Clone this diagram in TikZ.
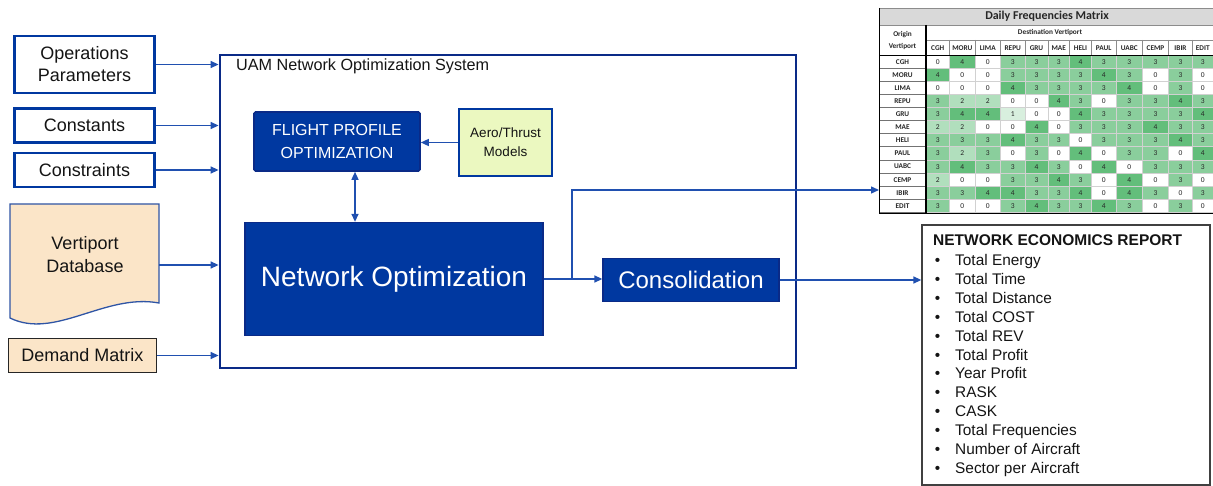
\documentclass[tikz,border=0pt]{standalone}
\usepackage{fontspec}
\setmainfont{Liberation Sans}
\newfontfamily\calib{Carlito}
\usetikzlibrary{arrows.meta}
\definecolor{boxblue}{RGB}{0,56,160}
\definecolor{edgeblue}{RGB}{10,42,135}
\definecolor{linkblue}{RGB}{32,80,176}
\definecolor{vdbline}{RGB}{47,85,165}
\definecolor{peach}{RGB}{251,229,200}
\definecolor{aerofill}{RGB}{235,248,192}
\definecolor{mgreen}{RGB}{99,190,123}
\definecolor{txt}{RGB}{20,20,20}
\begin{document}
\begin{tikzpicture}[x=1pt,y=-1pt,
  inbox/.style={draw=boxblue, line width=2.6pt, fill=white, inner sep=0pt, text=txt, align=center, font=\fontsize{18}{22}\selectfont},
  bluebox/.style={draw=edgeblue, line width=1.6pt, fill=boxblue, inner sep=0pt, text=white, align=center},
  link/.style={draw=linkblue, line width=1.4pt, -{Triangle[length=8pt,width=7pt]}},
  tabhead/.style={font=\calib\bfseries\fontsize{7.3}{8}\selectfont, inner sep=0pt, text=black!85, align=center},
  tabcell/.style={font=\calib\fontsize{7.5}{8}\selectfont, inner sep=0pt, text=black!85},
  repitem/.style={font=\fontsize{15.4}{18}\selectfont, inner sep=0pt, text=txt, anchor=base west},
  repbullet/.style={font=\fontsize{15.4}{18}\selectfont, inner sep=0pt, text=txt, anchor=base}]
\useasboundingbox (0,0) rectangle (1213,486);

% ---------- inputs ----------
\node[inbox, minimum width=140pt, minimum height=57pt] (ops) at (84.5,64.5) {Operations\\Parameters};
\node[inbox, minimum width=140pt, minimum height=34pt] (const) at (84.5,125.5) {Constants};
\node[inbox, minimum width=140pt, minimum height=34pt] (constr) at (84.5,170) {Constraints};

\draw[draw=vdbline, line width=1.3pt, fill=peach] (10,204) -- (159,204) -- (159,303)
   .. controls (105,293) and (55,340) .. (10,318) -- cycle;
\node[font=\fontsize{18}{23}\selectfont, align=center, text=txt, inner sep=0pt] (vdb) at (85,254.5) {Vertiport\\Database};
\coordinate (vdbout) at (159,265);

\node[draw=black!85, line width=1.3pt, fill=peach, minimum width=148pt, minimum height=34pt, inner sep=0pt,
      font=\fontsize{18}{22}\selectfont, text=txt] (demand) at (82.5,355.5) {Demand Matrix};

% ---------- system ----------
\node[draw=edgeblue, line width=2.8pt, minimum width=576pt, minimum height=313pt, inner sep=0pt] (sys) at (508,211.5) {};
\node[anchor=west, font=\fontsize{16.2}{19}\selectfont, text=txt, inner sep=0pt] (systitle) at (236,66) {UAM Network Optimization System};

\node[bluebox, rounded corners=1.5pt, minimum width=166pt, minimum height=59pt, font=\fontsize{16}{22.7}\selectfont] (fpo) at (337,141.5) {FLIGHT PROFILE\\OPTIMIZATION};
\node[draw=boxblue, line width=2.6pt, fill=aerofill, minimum width=93pt, minimum height=67pt, inner sep=0pt, align=center,
      font=\fontsize{13.5}{19}\selectfont, text=txt] (aero) at (505.5,142.5) {Aero/Thrust\\Models};
\node[bluebox, line width=1.3pt, minimum width=298pt, minimum height=113pt, font=\fontsize{28}{32}\selectfont] (netopt) at (394,279) {Network Optimization};
\node[bluebox, line width=1.3pt, minimum width=176pt, minimum height=43pt, font=\fontsize{24}{28}\selectfont] (cons) at (691,280) {Consolidation};

% ---------- report ----------
\node[draw=black!75, line width=1.3pt, minimum width=288pt, minimum height=260pt, inner sep=0pt] (rep) at (1066,355) {};
\node[font=\bfseries\fontsize{15.5}{18}\selectfont, text=txt, inner sep=0pt, anchor=base west] (reptitle) at (933,245.6) {NETWORK ECONOMICS REPORT};
\foreach \t [count=\k from 0] in {Total Energy, Total Time, Total Distance, Total COST, Total REV, Total Profit,
   Year Profit, RASK, CASK, Total Frequencies, Number of Aircraft, Sector per Aircraft} {
  \node[repbullet] (rb-\k) at (937.5,{265.5+18.9*\k}) {•};
  \node[repitem] (ri-\k) at (955,{265.5+18.9*\k}) {\t};
}

% ---------- frequencies matrix ----------
\def\cx{{926,949.5,975,1000.5,1025,1048,1069.5,1091.5,1116,1142.5,1168.5,1192.5,1213}}
\fill[black!15] (879,8) rectangle (1213,25);
\draw[black!45, line width=0.5pt] (879,8) -- (1213,8);
\node[font=\calib\bfseries\fontsize{12}{14}\selectfont, text=black!85, inner sep=0pt] (mtitle) at (1047,16.5) {Daily Frequencies Matrix};
\draw[black!45, line width=0.5pt] (879,25) -- (1213,25) (926,40) -- (1213,40) (879,25) -- (879,55);
\node[tabhead, font=\calib\bfseries\fontsize{7.3}{12}\selectfont] (orig) at (902.5,41) {Origin\\Vertiport};
\node[tabhead] (dest) at (1050,33) {Destination Vertiport};
\foreach \c [count=\j from 0] in {CGH,MORU,LIMA,REPU,GRU,MAE,HELI,PAUL,UABC,CEMP,IBIR,EDIT} {
  \pgfmathsetmacro\xa{\cx[\j]}
  \pgfmathsetmacro\xb{\cx[\j+1]}
  \draw[black!45, line width=0.5pt] (\xa,40) -- (\xa,55);
  \node[tabhead] (h-\j) at ({(\xa+\xb)/2},48) {\c};
}
\foreach \rn/\vals [count=\i from 0] in {
  CGH/{0,4,0,3,3,3,4,3,3,3,3,3},
  MORU/{4,0,0,3,3,3,3,4,3,0,3,0},
  LIMA/{0,0,0,4,3,3,3,3,4,0,3,0},
  REPU/{3,2,2,0,0,4,3,0,3,3,4,3},
  GRU/{3,4,4,1,0,0,4,3,3,3,3,4},
  MAE/{2,2,0,0,4,0,3,3,3,4,3,3},
  HELI/{3,3,3,4,3,3,0,3,3,3,4,3},
  PAUL/{3,2,3,0,3,0,4,0,3,3,0,4},
  UABC/{3,4,3,3,4,3,0,4,0,3,3,3},
  CEMP/{2,0,0,3,3,4,3,0,4,0,3,0},
  IBIR/{3,3,4,4,3,3,4,0,4,3,0,3},
  EDIT/{3,0,0,3,4,3,3,4,3,0,3,0}} {
  \pgfmathsetmacro\ya{55+13.1*\i}
  \pgfmathsetmacro\yb{\ya+13.1}
  \draw[black!55, line width=0.5pt] (879,\ya) rectangle (926,\yb);
  \node[tabhead] (r-\i) at (902.5,{\ya+6.8}) {\rn};
  \foreach \v [count=\j from 0] in \vals {
    \pgfmathsetmacro\xa{\cx[\j]}
    \pgfmathsetmacro\xb{\cx[\j+1]}
    \pgfmathtruncatemacro\p{\v*25}
    \filldraw[fill=mgreen!\p!white, draw=black!18, line width=0.5pt] (\xa,\ya) rectangle (\xb,\yb);
    \node[tabcell] (d-\i-\j) at ({(\xa+\xb)/2},{\ya+6.8}) {\v};
  }
}
\draw[black, line width=1.3pt] (926,25) -- (926,213);
\draw[black, line width=0.9pt] (879,55) -- (1213,55);
\draw[black, line width=0.9pt] (879,8) -- (879,213) -- (1213,213);
\coordinate (mIn) at (879,190);

% ---------- connectors ----------
\draw[link] (ops.east) -- (ops.east -| sys.west);
\draw[link] (const.east) -- (const.east -| sys.west);
\draw[link] (constr.east) -- (constr.east -| sys.west);
\draw[link] (vdbout) -- (vdbout -| sys.west);
\draw[link] (demand.east) -- (demand.east -| sys.west);
\draw[link] (aero.west) -- (aero.west -| fpo.east);
\draw[draw=linkblue, line width=1.4pt, {Triangle[length=8pt,width=7pt]}-{Triangle[length=8pt,width=7pt]}]
   ([xshift=18pt]fpo.south) -- ([xshift=18pt]fpo.south |- netopt.north);
\draw[link] (netopt.east) -- (netopt.east -| cons.west);
\coordinate (jn) at (572,279);
\draw[link] (jn) |- (mIn);
\draw[link] (cons.east) -- (cons.east -| rep.west);
\end{tikzpicture}
\end{document}
